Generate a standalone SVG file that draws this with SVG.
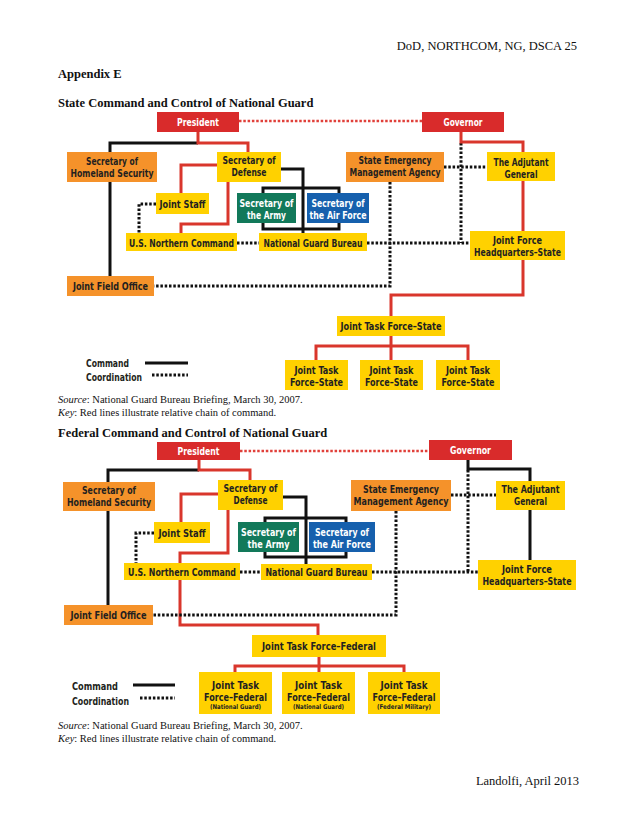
<svg xmlns="http://www.w3.org/2000/svg" width="638" height="826" viewBox="0 0 638 826">
<style>
.page{font-family:'Liberation Serif','Times New Roman',serif;fill:#111}
.lbl{font-family:'Liberation Sans Narrow','Arial Narrow','DejaVu Sans Condensed','Liberation Sans',sans-serif;font-weight:bold;font-size:11px;fill:#231f20;text-anchor:middle}
.w{fill:#fff}
.sm{font-size:6.5px}
.leg{font-family:'Liberation Sans Narrow','Arial Narrow','DejaVu Sans Condensed','Liberation Sans',sans-serif;font-weight:bold;font-size:11px;fill:#231f20}
.red{fill:#d92b2b}.org{fill:#f5922a}.yel{fill:#ffd100}.grn{fill:#12795a}.blu{fill:#1660ad}
.cb{fill:none;stroke:#111;stroke-width:3}
.cr{fill:none;stroke:#d9362c;stroke-width:3}
.cd{fill:none;stroke:#111;stroke-width:3;stroke-dasharray:2.5 1.8}
.crd{fill:none;stroke:#e0403a;stroke-width:2.5;stroke-dasharray:2.5 1.8}
</style>

<!-- page text -->
<text class="page" x="577" y="50" font-size="12.5" text-anchor="end">DoD, NORTHCOM, NG, DSCA 25</text>
<text class="page" x="58" y="78" font-size="12.5" font-weight="bold">Appendix E</text>
<text class="page" x="58" y="107" font-size="12.5" font-weight="bold">State Command and Control of National Guard</text>
<text class="page" x="58" y="403" font-size="10.5"><tspan font-style="italic">Source</tspan>: National Guard Bureau Briefing, March 30, 2007.</text>
<text class="page" x="58" y="416" font-size="10.5"><tspan font-style="italic">Key</tspan>: Red lines illustrate relative chain of command.</text>
<text class="page" x="58" y="437" font-size="12.5" font-weight="bold">Federal Command and Control of National Guard</text>
<text class="page" x="58" y="729" font-size="10.5"><tspan font-style="italic">Source</tspan>: National Guard Bureau Briefing, March 30, 2007.</text>
<text class="page" x="58" y="742" font-size="10.5"><tspan font-style="italic">Key</tspan>: Red lines illustrate relative chain of command.</text>
<text class="page" x="579" y="785" font-size="12.5" text-anchor="end">Landolfi, April 2013</text>

<!-- connectors: state diagram -->
<g id="connectors-state">
<path class="crd" d="M239,121 H422"/>
<path class="cb" d="M110,152 V143 H198"/>
<path class="cb" d="M110,182 V276"/>
<path class="cr" d="M198,132 V143 H248 V152"/>
<path class="cr" d="M217,165 H181 V193"/>
<path class="cr" d="M228,182 V224 H181 V233"/>
<path class="cb" d="M281,169 H303 V233"/>
<rect class="cb" x="263" y="188" width="76" height="41"/>
<path class="cd" d="M156,204 H139 V233"/>
<path class="cd" d="M237,243 H259"/>
<path class="cd" d="M367,243 H470"/>
<path class="cd" d="M461,143 V243"/>
<path class="cd" d="M444,167 H487"/>
<path class="cd" d="M390,182 V286 H154"/>
<path class="cr" d="M461,132 V142 H523 V295 H391 V316"/>
<path class="cr" d="M391,336 V360 M316,360 V346 H468 V360"/>
<path class="cb" d="M145,363 H188"/>
<path class="cd" d="M152,375 H188"/>
</g>

<!-- connectors: federal diagram -->
<g id="connectors-federal">
<path class="crd" d="M240,451 H429"/>
<path class="cb" d="M108,482 V470 H199"/>
<path class="cb" d="M108,511 V605"/>
<path class="cr" d="M199,460 V470 H250 V480"/>
<path class="cr" d="M218,494 H181 V522"/>
<path class="cr" d="M228,510 V553 H180 V563"/>
<path class="cr" d="M180,580 V625 H318 V635"/>
<path class="cb" d="M283,497 H306 V564"/>
<rect class="cb" x="265" y="518" width="81" height="39"/>
<path class="cd" d="M154,533 H136 V563"/>
<path class="cd" d="M240,572 H261"/>
<path class="cd" d="M372,572 H478"/>
<path class="cd" d="M468,470 V572"/>
<path class="cd" d="M451,495 H496"/>
<path class="cd" d="M396,511 V615 H153"/>
<path class="cb" d="M468,460 V469 H530 V481 M530,510 V560"/>
<path class="cr" d="M319,657 V672 M235,672 V666 H404 V672"/>
<path class="cb" d="M133,685 H175"/>
<path class="cd" d="M140,698 H175"/>
</g>

<!-- legends -->
<g id="legend-state">
<text class="leg" x="86" y="367" textLength="43" lengthAdjust="spacingAndGlyphs">Command</text>
<text class="leg" x="86" y="381" textLength="56" lengthAdjust="spacingAndGlyphs">Coordination</text>
</g>
<g id="legend-federal">
<text class="leg" x="72" y="690" textLength="46" lengthAdjust="spacingAndGlyphs">Command</text>
<text class="leg" x="72" y="705" textLength="57" lengthAdjust="spacingAndGlyphs">Coordination</text>
</g>

<!-- state nodes -->
<g id="s-president"><rect class="red" x="157" y="112" width="82" height="20"/><text class="lbl w" x="198" y="126" textLength="42" lengthAdjust="spacingAndGlyphs">President</text></g>
<g id="s-governor"><rect class="red" x="422" y="112" width="82" height="20"/><text class="lbl w" x="463" y="126" textLength="39" lengthAdjust="spacingAndGlyphs">Governor</text></g>
<g id="s-sechs"><rect class="org" x="67" y="152" width="90" height="30"/><text class="lbl" x="112" y="165" textLength="52" lengthAdjust="spacingAndGlyphs">Secretary of</text><text class="lbl" x="112" y="177" textLength="83" lengthAdjust="spacingAndGlyphs">Homeland Security</text></g>
<g id="s-secdef"><rect class="yel" x="217" y="152" width="64" height="30"/><text class="lbl" x="249" y="164" textLength="53" lengthAdjust="spacingAndGlyphs">Secretary of</text><text class="lbl" x="249" y="175.5" textLength="35" lengthAdjust="spacingAndGlyphs">Defense</text></g>
<g id="s-jointstaff"><rect class="yel" x="156" y="193" width="53" height="21"/><text class="lbl" x="182.5" y="208" textLength="46" lengthAdjust="spacingAndGlyphs">Joint Staff</text></g>
<g id="s-army"><rect class="grn" x="237" y="193" width="59" height="30"/><text class="lbl w" x="266.5" y="207" textLength="54" lengthAdjust="spacingAndGlyphs">Secretary of</text><text class="lbl w" x="266.5" y="218.5" textLength="39" lengthAdjust="spacingAndGlyphs">the Army</text></g>
<g id="s-airforce"><rect class="blu" x="307" y="193" width="62" height="30"/><text class="lbl w" x="338" y="207" textLength="53" lengthAdjust="spacingAndGlyphs">Secretary of</text><text class="lbl w" x="338" y="218.5" textLength="57" lengthAdjust="spacingAndGlyphs">the Air Force</text></g>
<g id="s-usnc"><rect class="yel" x="126" y="233" width="111" height="18"/><text class="lbl" x="181.5" y="246.5" textLength="105" lengthAdjust="spacingAndGlyphs">U.S. Northern Command</text></g>
<g id="s-ngb"><rect class="yel" x="259" y="233" width="108" height="18"/><text class="lbl" x="313" y="246.5" textLength="99" lengthAdjust="spacingAndGlyphs">National Guard Bureau</text></g>
<g id="s-jfo"><rect class="org" x="67" y="276" width="87" height="20"/><text class="lbl" x="110.5" y="289.5" textLength="75" lengthAdjust="spacingAndGlyphs">Joint Field Office</text></g>
<g id="s-sema"><rect class="org" x="346" y="152" width="98" height="30"/><text class="lbl" x="395" y="164" textLength="73" lengthAdjust="spacingAndGlyphs">State Emergency</text><text class="lbl" x="395" y="176" textLength="91" lengthAdjust="spacingAndGlyphs">Management Agency</text></g>
<g id="s-tag"><rect class="yel" x="487" y="152" width="68" height="29"/><text class="lbl" x="521" y="166" textLength="55" lengthAdjust="spacingAndGlyphs">The Adjutant</text><text class="lbl" x="521" y="177.5" textLength="33" lengthAdjust="spacingAndGlyphs">General</text></g>
<g id="s-jfhq"><rect class="yel" x="470" y="231" width="95" height="29"/><text class="lbl" x="517.5" y="244" textLength="49" lengthAdjust="spacingAndGlyphs">Joint Force</text><text class="lbl" x="517.5" y="255.5" textLength="87" lengthAdjust="spacingAndGlyphs">Headquarters–State</text></g>
<g id="s-jtfstate"><rect class="yel" x="337" y="316" width="108" height="20"/><text class="lbl" x="391" y="330" textLength="101" lengthAdjust="spacingAndGlyphs">Joint Task Force–State</text></g>
<g id="s-jtf1"><rect class="yel" x="285" y="360" width="63" height="30"/><text class="lbl" x="316.5" y="374" textLength="44" lengthAdjust="spacingAndGlyphs">Joint Task</text><text class="lbl" x="316.5" y="385.5" textLength="53" lengthAdjust="spacingAndGlyphs">Force–State</text></g>
<g id="s-jtf2"><rect class="yel" x="360" y="360" width="63" height="30"/><text class="lbl" x="391.5" y="374" textLength="44" lengthAdjust="spacingAndGlyphs">Joint Task</text><text class="lbl" x="391.5" y="385.5" textLength="53" lengthAdjust="spacingAndGlyphs">Force–State</text></g>
<g id="s-jtf3"><rect class="yel" x="436" y="360" width="64" height="30"/><text class="lbl" x="468" y="374" textLength="44" lengthAdjust="spacingAndGlyphs">Joint Task</text><text class="lbl" x="468" y="385.5" textLength="53" lengthAdjust="spacingAndGlyphs">Force–State</text></g>

<!-- federal nodes -->
<g id="f-president"><rect class="red" x="157" y="442" width="83" height="18"/><text class="lbl w" x="198.5" y="455" textLength="42" lengthAdjust="spacingAndGlyphs">President</text></g>
<g id="f-governor"><rect class="red" x="429" y="440" width="83" height="20"/><text class="lbl w" x="470.5" y="454" textLength="41" lengthAdjust="spacingAndGlyphs">Governor</text></g>
<g id="f-sechs"><rect class="org" x="63" y="482" width="92" height="29"/><text class="lbl" x="109" y="493.5" textLength="54" lengthAdjust="spacingAndGlyphs">Secretary of</text><text class="lbl" x="109" y="505.5" textLength="84" lengthAdjust="spacingAndGlyphs">Homeland Security</text></g>
<g id="f-secdef"><rect class="yel" x="218" y="480" width="65" height="30"/><text class="lbl" x="250.5" y="492" textLength="54" lengthAdjust="spacingAndGlyphs">Secretary of</text><text class="lbl" x="250.5" y="504" textLength="34" lengthAdjust="spacingAndGlyphs">Defense</text></g>
<g id="f-jointstaff"><rect class="yel" x="154" y="522" width="56" height="21"/><text class="lbl" x="182" y="537" textLength="47" lengthAdjust="spacingAndGlyphs">Joint Staff</text></g>
<g id="f-army"><rect class="grn" x="238" y="522" width="61" height="30"/><text class="lbl w" x="268.5" y="536" textLength="55" lengthAdjust="spacingAndGlyphs">Secretary of</text><text class="lbl w" x="268.5" y="547.5" textLength="42" lengthAdjust="spacingAndGlyphs">the Army</text></g>
<g id="f-airforce"><rect class="blu" x="309" y="522" width="66" height="30"/><text class="lbl w" x="342" y="536" textLength="54" lengthAdjust="spacingAndGlyphs">Secretary of</text><text class="lbl w" x="342" y="547.5" textLength="58" lengthAdjust="spacingAndGlyphs">the Air Force</text></g>
<g id="f-usnc"><rect class="yel" x="124" y="563" width="116" height="17"/><text class="lbl" x="182" y="576" textLength="108" lengthAdjust="spacingAndGlyphs">U.S. Northern Command</text></g>
<g id="f-ngb"><rect class="yel" x="261" y="564" width="111" height="16"/><text class="lbl" x="316.5" y="576" textLength="102" lengthAdjust="spacingAndGlyphs">National Guard Bureau</text></g>
<g id="f-jfo"><rect class="org" x="64" y="605" width="89" height="20"/><text class="lbl" x="108.5" y="618.5" textLength="76" lengthAdjust="spacingAndGlyphs">Joint Field Office</text></g>
<g id="f-sema"><rect class="org" x="351" y="480" width="100" height="31"/><text class="lbl" x="401" y="493" textLength="76" lengthAdjust="spacingAndGlyphs">State Emergency</text><text class="lbl" x="401" y="504.5" textLength="95" lengthAdjust="spacingAndGlyphs">Management Agency</text></g>
<g id="f-tag"><rect class="yel" x="496" y="481" width="69" height="29"/><text class="lbl" x="530.5" y="493" textLength="58" lengthAdjust="spacingAndGlyphs">The Adjutant</text><text class="lbl" x="530.5" y="505" textLength="33" lengthAdjust="spacingAndGlyphs">General</text></g>
<g id="f-jfhq"><rect class="yel" x="478" y="560" width="98" height="30"/><text class="lbl" x="527" y="573" textLength="50" lengthAdjust="spacingAndGlyphs">Joint Force</text><text class="lbl" x="527" y="584.5" textLength="89" lengthAdjust="spacingAndGlyphs">Headquarters–State</text></g>
<g id="f-jtffed"><rect class="yel" x="252" y="635" width="134" height="22"/><text class="lbl" x="319" y="650" textLength="114" lengthAdjust="spacingAndGlyphs">Joint Task Force–Federal</text></g>
<g id="f-jtf1"><rect class="yel" x="199" y="672" width="73" height="42"/><text class="lbl" x="235.5" y="689" textLength="47" lengthAdjust="spacingAndGlyphs">Joint Task</text><text class="lbl" x="235.5" y="701" textLength="63" lengthAdjust="spacingAndGlyphs">Force–Federal</text><text class="lbl sm" x="235.5" y="709" textLength="51" lengthAdjust="spacingAndGlyphs">(National Guard)</text></g>
<g id="f-jtf2"><rect class="yel" x="282" y="672" width="73" height="42"/><text class="lbl" x="318.5" y="689" textLength="47" lengthAdjust="spacingAndGlyphs">Joint Task</text><text class="lbl" x="318.5" y="701" textLength="63" lengthAdjust="spacingAndGlyphs">Force–Federal</text><text class="lbl sm" x="318.5" y="709" textLength="51" lengthAdjust="spacingAndGlyphs">(National Guard)</text></g>
<g id="f-jtf3"><rect class="yel" x="368" y="672" width="72" height="42"/><text class="lbl" x="404" y="689" textLength="47" lengthAdjust="spacingAndGlyphs">Joint Task</text><text class="lbl" x="404" y="701" textLength="63" lengthAdjust="spacingAndGlyphs">Force–Federal</text><text class="lbl sm" x="404" y="709" textLength="54" lengthAdjust="spacingAndGlyphs">(Federal Military)</text></g>
</svg>
